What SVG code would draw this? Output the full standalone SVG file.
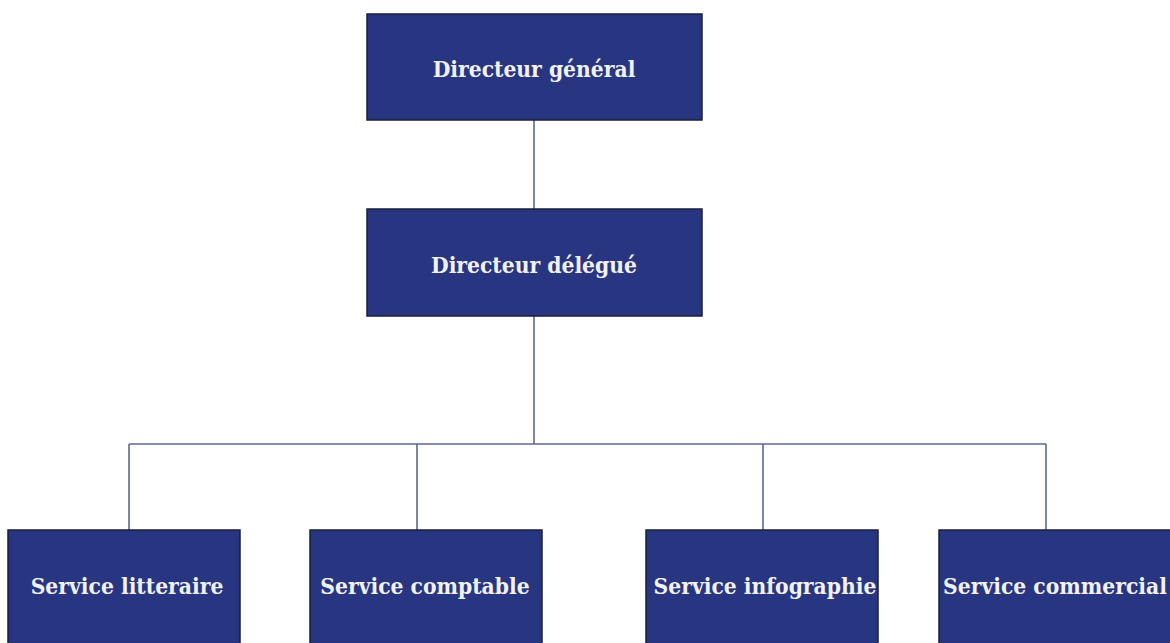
<svg xmlns="http://www.w3.org/2000/svg" width="1170" height="643" viewBox="0 0 1170 643">
  <style>
    .box { fill: #283682; stroke: #1a1f3a; stroke-width: 1.5; }
    .lbl { fill: #f2f2f6; font-family: "DejaVu Serif Condensed", "DejaVu Serif", serif; font-stretch: condensed; font-weight: bold; font-size: 22.6px; text-anchor: middle; }
    .wire { stroke: #5b6796; stroke-width: 1.6; fill: none; }
  </style>
  <rect width="1170" height="643" fill="#ffffff"/>
  <g id="connectors">
    <line class="wire" x1="534" y1="120" x2="534" y2="209"/>
    <line class="wire" x1="534" y1="316" x2="534" y2="444"/>
    <line class="wire" x1="129" y1="444" x2="1046" y2="444"/>
    <line class="wire" x1="129" y1="444" x2="129" y2="530"/>
    <line class="wire" x1="417" y1="444" x2="417" y2="530"/>
    <line class="wire" x1="763" y1="444" x2="763" y2="530"/>
    <line class="wire" x1="1046" y1="444" x2="1046" y2="530"/>
  </g>
  <g id="directeur-general">
    <rect class="box" x="367" y="14" width="335" height="106"/>
    <text class="lbl" x="534" y="77">Directeur général</text>
  </g>
  <g id="directeur-delegue">
    <rect class="box" x="367" y="209" width="335" height="107"/>
    <text class="lbl" x="534" y="273">Directeur délégué</text>
  </g>
  <g id="service-litteraire">
    <rect class="box" x="8" y="530" width="232" height="120"/>
    <text class="lbl" x="127" y="594">Service litteraire</text>
  </g>
  <g id="service-comptable">
    <rect class="box" x="310" y="530" width="232" height="120"/>
    <text class="lbl" x="425" y="594">Service comptable</text>
  </g>
  <g id="service-infographie">
    <rect class="box" x="646" y="530" width="232" height="120"/>
    <text class="lbl" x="765" y="594">Service infographie</text>
  </g>
  <g id="service-commercial">
    <rect class="box" x="939" y="530" width="240" height="120"/>
    <text class="lbl" x="1055" y="594">Service commercial</text>
  </g>
</svg>
